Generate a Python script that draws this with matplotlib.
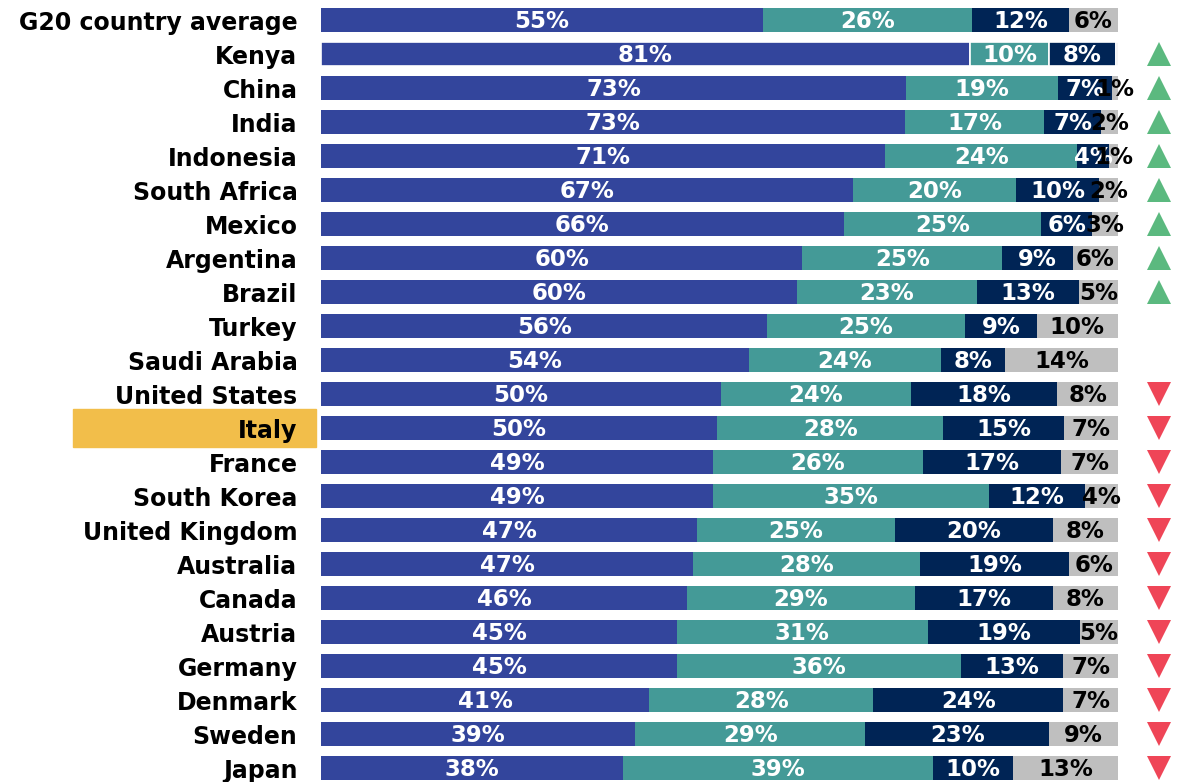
import matplotlib
matplotlib.use("Agg")
import matplotlib.pyplot as plt
from matplotlib.patches import Rectangle
from matplotlib.transforms import blended_transform_factory

countries = [
    "G20 country average", "Kenya", "China", "India", "Indonesia", "South Africa",
    "Mexico", "Argentina", "Brazil", "Turkey", "Saudi Arabia", "United States",
    "Italy", "France", "South Korea", "United Kingdom", "Australia", "Canada",
    "Austria", "Germany", "Denmark", "Sweden", "Japan",
]
seg_a = [55.4, 81.4, 73.4, 73.3, 70.8, 66.8, 65.6, 60.4, 59.7, 56.0, 53.7, 50.2,
         49.7, 49.2, 49.2, 47.2, 46.7, 45.9, 44.7, 44.7, 41.2, 39.4, 37.9]
seg_b = [26.3, 10.0, 19.1, 17.4, 24.1, 20.4, 24.8, 25.1, 22.6, 24.8, 24.1, 23.8,
         28.4, 26.3, 34.6, 24.8, 28.4, 28.6, 31.4, 35.6, 28.1, 28.9, 38.9]
seg_c = [12.1, 8.3, 6.7, 7.2, 4.0, 10.4, 6.4, 8.8, 12.8, 9.0, 8.0, 18.4,
         15.1, 17.4, 12.1, 19.8, 18.8, 17.3, 19.1, 12.8, 23.8, 23.1, 10.0]
seg_d = [6.2, 0.3, 0.8, 2.1, 1.1, 2.4, 3.2, 5.7, 4.9, 10.2, 14.2, 7.6,
         6.8, 7.1, 4.1, 8.2, 6.1, 8.2, 4.8, 6.9, 6.9, 8.6, 13.2]
trend = [""] + ["up"] * 8 + ["", ""] + ["down"] * 12
highlight = "Italy"

colors = ["#33459C", "#449A97", "#002455", "#BFBFBF"]
text_colors = ["white", "white", "white", "black"]

plt.rcParams["font.family"] = ["DejaVu Sans"]
plt.rcParams["font.weight"] = "bold"

fig = plt.figure(figsize=(11.78, 7.82), dpi=100)
ax = fig.add_axes([321 / 1178, 0, 797 / 1178, 1])

y = list(range(len(countries)))
left = [0.0] * len(countries)
for seg, col, tcol in zip([seg_a, seg_b, seg_c, seg_d], colors, text_colors):
    for i, v in enumerate(seg):
        is_kenya = countries[i] == "Kenya"
        ax.barh(i, v, left=left[i], height=0.7, color=col,
                edgecolor="white" if is_kenya else col, linewidth=1.2 if is_kenya else 0)
        if v >= 0.5:
            ax.text(left[i] + v / 2, i + 0.04, f"{v:.0f}%", ha="center", va="center",
                    color=tcol, fontsize=16.5, fontweight="bold", clip_on=False, zorder=3)
        left[i] += v

for i, t in enumerate(trend):
    if t == "up":
        ax.plot(105.1, i, marker="^", color="#5BB97F", markersize=17, clip_on=False,
                markeredgewidth=0)
    elif t == "down":
        ax.plot(105.1, i, marker="v", color="#EF4557", markersize=17, clip_on=False,
                markeredgewidth=0)

hi = countries.index(highlight)
trans = blended_transform_factory(ax.transAxes, ax.transData)
ax.add_patch(Rectangle((-0.311, hi - 0.55), 0.305, 1.1, transform=trans,
                       color="#F2BE4A", clip_on=False, zorder=0))

ax.set_xlim(0, 100)
ax.set_ylim((782 - 20) / 34, -20 / 34)
ax.set_yticks(y)
ax.set_yticklabels(countries, fontsize=17, fontweight="bold")
ax.tick_params(axis="y", length=0, pad=17)
ax.set_xticks([])
for s in ax.spines.values():
    s.set_visible(False)

fig.savefig("out.png", dpi=100)
